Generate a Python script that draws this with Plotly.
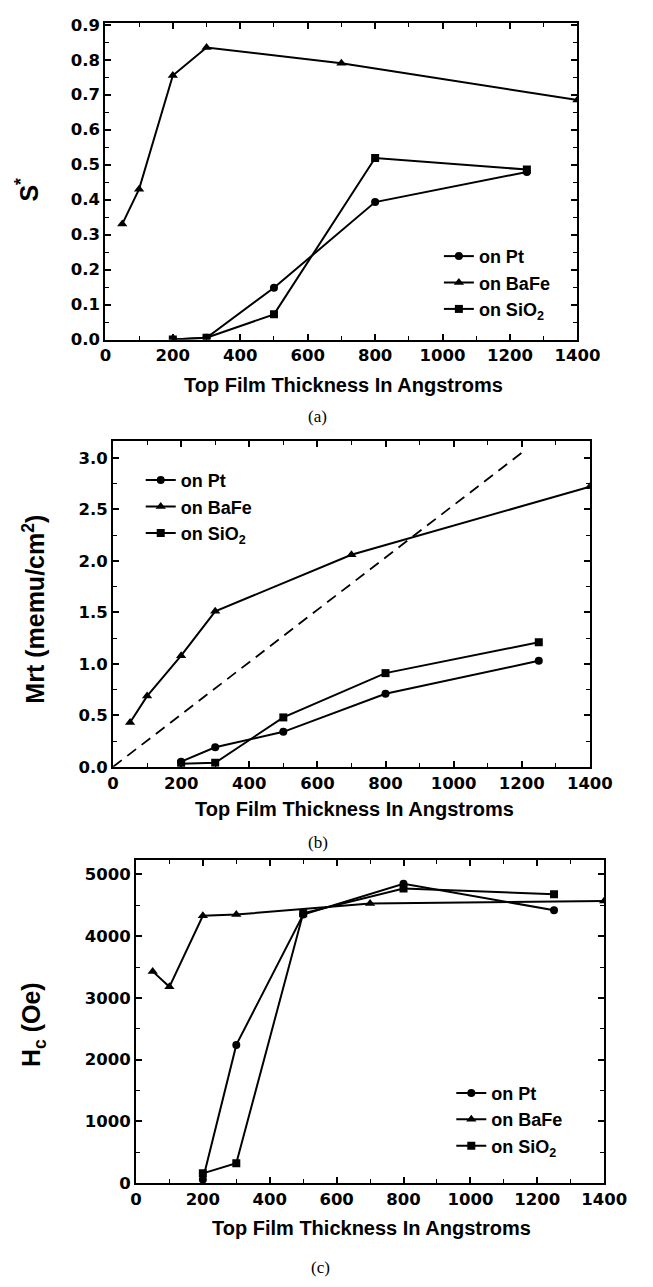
import plotly.graph_objects as go

# ---------------- data ----------------
# (a) S*
a_bafe_x = [50, 100, 200, 300, 700, 1400]
a_bafe_y = [0.33, 0.43, 0.755, 0.835, 0.79, 0.685]
a_pt_x = [200, 300, 500, 800, 1250]
a_pt_y = [0.0, 0.005, 0.148, 0.393, 0.479]
a_sio2_x = [200, 300, 500, 800, 1250]
a_sio2_y = [0.0, 0.005, 0.072, 0.519, 0.486]

# (b) Mrt (memu/cm2)
b_bafe_x = [50, 100, 200, 300, 700, 1400]
b_bafe_y = [0.43, 0.687, 1.08, 1.51, 2.06, 2.72]
b_pt_x = [200, 300, 500, 800, 1250]
b_pt_y = [0.05, 0.19, 0.34, 0.71, 1.03]
b_sio2_x = [200, 300, 500, 800, 1250]
b_sio2_y = [0.03, 0.04, 0.48, 0.91, 1.21]
b_ref_x = [0, 1200]
b_ref_y = [0.0, 3.05]

# (c) Hc (Oe)
c_bafe_x = [50, 100, 200, 300, 700, 1400]
c_bafe_y = [3430, 3180, 4330, 4350, 4530, 4570]
c_pt_x = [200, 300, 500, 800, 1250]
c_pt_y = [60, 2240, 4350, 4850, 4420]
c_sio2_x = [200, 300, 500, 800, 1250]
c_sio2_y = [160, 325, 4370, 4770, 4680]

x_ticks = [0, 200, 400, 600, 800, 1000, 1200, 1400]
series_names = ["on Pt", "on BaFe", "on SiO<sub>2</sub>"]
x_title = "Top Film Thickness In Angstroms"
y_titles = ["S<sup>*</sup>", "Mrt (memu/cm<sup>2</sup>)", "H<sub>c</sub> (Oe)"]
panel_labels = ["(a)", "(b)", "(c)"]

# ---------------- layout helpers ----------------
W, H = 653, 1287
def px(x):
    return x / W
def py(y):
    return 1 - y / H

SANS = "Liberation Sans, Arial, sans-serif"
TICKFONT = dict(family="DejaVu Sans, Liberation Sans, sans-serif", size=16.5, color="black", weight="bold")

fig = go.Figure()

panels = [
    dict(sfx="", box=(104, 598, 16, 337), yr=[0, 0.9056], ydt=0.1, yminor=0.05, yfmt=".1f",
         data=[(a_pt_x, a_pt_y), (a_bafe_x, a_bafe_y), (a_sio2_x, a_sio2_y)], legend="legend",
         leg=(453, 234), ytitle_pos=(22, 185), xtitle_pos=(353, 383), lab_pos=(326, 415)),
    dict(sfx="2", box=(112, 611, 440, 770), yr=[0, 3.163], ydt=0.5, yminor=0.25, yfmt=".1f",
         data=[(b_pt_x, b_pt_y), (b_bafe_x, b_bafe_y), (b_sio2_x, b_sio2_y)], legend="legend2",
         leg=(141, 461), ytitle_pos=(29, 610), xtitle_pos=(365, 813), lab_pos=(326, 847)),
    dict(sfx="3", box=(136, 626, 864, 1192), yr=[0, 5240], ydt=1000, yminor=500, yfmt="d",
         data=[(c_pt_x, c_pt_y), (c_bafe_x, c_bafe_y), (c_sio2_x, c_sio2_y)], legend="legend3",
         leg=(466, 1082), ytitle_pos=(29, 1031), xtitle_pos=(382, 1237), lab_pos=(329, 1277)),
]

symbols = ["circle", "triangle-up", "square"]
msizes = [8, 9, 8]

annotations = []
for i, p in enumerate(panels):
    xa = "x" + p["sfx"]
    ya = "y" + p["sfx"]
    for (xs, ys), name, sym, ms in zip(p["data"], series_names, symbols, msizes):
        fig.add_trace(go.Scatter(
            x=xs, y=ys, mode="lines+markers", name=name,
            xaxis=xa, yaxis=ya, legend=p["legend"],
            line=dict(color="black", width=2),
            marker=dict(symbol=sym, size=ms, color="black"),
        ))
    if i == 1:
        fig.add_trace(go.Scatter(
            x=b_ref_x, y=b_ref_y, mode="lines", showlegend=False,
            xaxis=xa, yaxis=ya,
            line=dict(color="black", width=1.8, dash="11px,7px"),
        ))
    l, r, t, b = p["box"]
    axis_common = dict(
        showline=True, linecolor="black", linewidth=2, mirror="allticks",
        ticks="inside", ticklen=6, tickwidth=1.5, tickcolor="black",
        showgrid=False, zeroline=False, tickfont=TICKFONT,
    )
    fig.update_layout(**{
        "xaxis" + p["sfx"]: dict(
            domain=[px(l), px(r)], range=[0, 1400], anchor=ya,
            tickvals=x_ticks, ticktext=[str(v) for v in x_ticks],
            minor=dict(dtick=100, ticks="inside", ticklen=4, tickwidth=1.3, tickcolor="black"),
            **axis_common,
        ),
        "yaxis" + p["sfx"]: dict(
            domain=[py(b), py(t)], range=p["yr"], anchor=xa,
            dtick=p["ydt"], tick0=0, tickformat=p["yfmt"],
            minor=dict(dtick=p["yminor"], ticks="inside", ticklen=4, tickwidth=1.3, tickcolor="black"),
            **axis_common,
        ),
        p["legend"]: dict(
            x=px(p["leg"][0]), y=py(p["leg"][1]), xanchor="left", yanchor="top",
            bgcolor="rgba(0,0,0,0)", borderwidth=0,
            font=dict(family=SANS, size=18, color="black", weight="bold"),
            tracegroupgap=0, itemwidth=30,
        ),
    })
    annotations.append(dict(
        text=y_titles[i], x=px(p["ytitle_pos"][0]), y=py(p["ytitle_pos"][1]),
        xref="paper", yref="paper", showarrow=False, textangle=-90,
        xanchor="center", yanchor="middle",
        font=dict(family=SANS, size=25, color="black", weight="bold"),
    ))
    annotations.append(dict(
        text=x_title, x=px(p["xtitle_pos"][0]), y=py(p["xtitle_pos"][1]),
        xref="paper", yref="paper", showarrow=False,
        xanchor="center", yanchor="middle",
        font=dict(family=SANS, size=20, color="black", weight="bold"),
    ))
    annotations.append(dict(
        text=panel_labels[i], x=px(p["lab_pos"][0]), y=py(p["lab_pos"][1]),
        xref="paper", yref="paper", showarrow=False,
        xanchor="center", yanchor="middle",
        font=dict(family="Liberation Serif, Times New Roman, serif", size=17, color="black"),
    ))

fig.update_layout(
    width=W, height=H, autosize=False,
    margin=dict(l=0, r=0, t=0, b=0),
    paper_bgcolor="white", plot_bgcolor="white",
    annotations=annotations,
    showlegend=True,
)

fig.write_html("out.html", config={"displayModeBar": False},
               post_script="document.body.style.margin='0';document.body.style.overflow='hidden';")
